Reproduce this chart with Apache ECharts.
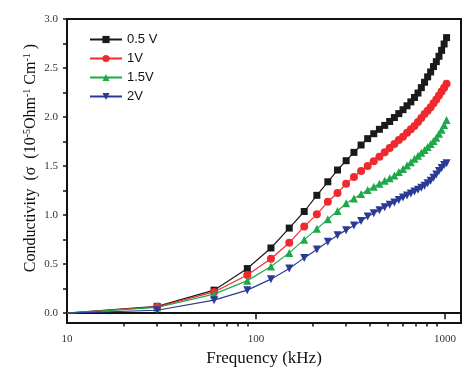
<!DOCTYPE html>
<html>
<head>
<meta charset="utf-8">
<script src="https://cdn.jsdelivr.net/npm/echarts@6/dist/echarts.min.js"></script>
<style>html,body{margin:0;padding:0;background:#fff;}#c{width:476px;height:373px;}</style>
</head>
<body>
<div id="c"></div>
<script>
var freqs = [10,30,60,90,120,150,180,210,240,270,300,330,360,390,420,450,480,510,540,570,600,630,660,690,720,750,780,810,840,870,900,930,960,990,1020];
var v05 = [0,0.07,0.235,0.455,0.665,0.868,1.037,1.202,1.34,1.46,1.555,1.64,1.715,1.78,1.83,1.875,1.915,1.955,1.995,2.035,2.075,2.115,2.155,2.2,2.245,2.30,2.355,2.41,2.46,2.515,2.565,2.62,2.68,2.745,2.81];
var v1  = [0,0.065,0.217,0.39,0.555,0.718,0.885,1.008,1.136,1.225,1.32,1.39,1.45,1.50,1.55,1.595,1.64,1.685,1.725,1.765,1.80,1.84,1.875,1.91,1.95,1.99,2.03,2.065,2.10,2.14,2.18,2.22,2.26,2.30,2.34];
var v15 = [0,0.058,0.194,0.332,0.476,0.615,0.75,0.86,0.958,1.042,1.12,1.17,1.215,1.255,1.29,1.32,1.35,1.375,1.405,1.44,1.47,1.505,1.54,1.575,1.605,1.635,1.665,1.695,1.725,1.755,1.79,1.83,1.87,1.92,1.97];
var v2  = [0,0.03,0.133,0.235,0.347,0.456,0.564,0.65,0.728,0.796,0.847,0.895,0.94,0.985,1.02,1.05,1.08,1.105,1.13,1.155,1.18,1.20,1.22,1.24,1.26,1.28,1.30,1.325,1.35,1.38,1.415,1.45,1.48,1.51,1.53];
var seriesNames = ['0.5 V','1V','1.5V','2V'];
var xMajorTicks = [10,100,1000];
var xMinorTicks = [20,30,40,50,60,70,80,90,200,300,400,500,600,700,800,900];
var yLabelTicks = [0,0.5,1.0,1.5,2.0,2.5,3.0];
var yTicks = [0,0.25,0.5,0.75,1.0,1.25,1.5,1.75,2.0,2.25,2.5,2.75,3.0];

var colors = ['#1a1a1a','#ee2a2e','#1fa84a','#2a3a96'];
var symbols = ['rect','circle','triangle','triangle'];
var symbolSizes = [7,8,8,8];
var rotates = [0,0,0,180];
var vals = [v05,v1,v15,v2];

function mk(arr){
  return freqs.map(function(f,i){
    if(i===0) return {value:[f,arr[i]], symbolSize:0};
    return [f,arr[i]];
  });
}

var chart = echarts.init(document.getElementById('c'));
var serif = 'Liberation Serif';
var series = vals.map(function(a,k){
  return {
    name: seriesNames[k], type:'line', data: mk(a),
    symbol: symbols[k], symbolSize: symbolSizes[k], symbolRotate: rotates[k],
    lineStyle:{color:colors[k], width:1.2},
    itemStyle:{color:colors[k]},
    xAxisIndex:0, yAxisIndex:0, animation:false, clip:false, z: 2+k
  };
});
chart.setOption({
  animation:false,
  grid:{left:67,right:15,top:19,bottom:50,show:true,borderColor:'#111',borderWidth:2,backgroundColor:'transparent'},
  legend:{
    orient:'vertical', left:84, top:28, itemGap:6, itemWidth:32, itemHeight:9,
    textStyle:{fontFamily:'Liberation Sans', fontSize:13, color:'#111'},
    data: seriesNames
  },
  xAxis:[{
    type:'log', min:10, max:1216, logBase:10,
    axisLine:{show:true, lineStyle:{color:'#111', width:2}},
    axisTick:{show:true, inside:false, length:6, customValues:xMajorTicks, lineStyle:{color:'#111', width:1.5}},
    axisLabel:{customValues:xMajorTicks, margin:11, fontFamily:serif, fontSize:11, color:'#333', formatter:function(v){return String(Math.round(v));}},
    splitLine:{show:false}, minorTick:{show:false},
    name:'Frequency (kHz)', nameLocation:'middle', nameGap:26,
    nameTextStyle:{fontFamily:serif, fontSize:17, color:'#111'}
  },{
    type:'log', min:10, max:1216, logBase:10, position:'bottom',
    axisLine:{show:false},
    axisTick:{show:true, inside:false, length:3.5, customValues:xMinorTicks, lineStyle:{color:'#111', width:1.5}},
    axisLabel:{show:false}, splitLine:{show:false}
  }],
  yAxis:[{
    type:'value', min:-0.1, max:3.0,
    axisLine:{show:true, lineStyle:{color:'#111', width:2}},
    axisTick:{show:true, inside:false, length:4, customValues:yTicks, lineStyle:{color:'#111', width:1.5}},
    axisLabel:{customValues:yLabelTicks, margin:9, fontFamily:serif, fontSize:11, color:'#333', formatter:function(v){return v.toFixed(1);}},
    splitLine:{show:false}
  }],
  graphic:[{
    type:'text', x:31, y:158, rotation:Math.PI/2,
    style:{
      text:'{a|Conductivity  (σ  (10}{s|-5}{a|Ohm}{s|-1}{a| Cm}{s|-1}{a| )}',
      align:'center', verticalAlign:'middle',
      rich:{
        a:{fontFamily:serif, fontSize:16, fill:'#111'},
        s:{fontFamily:serif, fontSize:10, fill:'#111', verticalAlign:'top', padding:[0,0,8,0]}
      }
    }
  }],
  series: series
});
</script>
</body>
</html>
